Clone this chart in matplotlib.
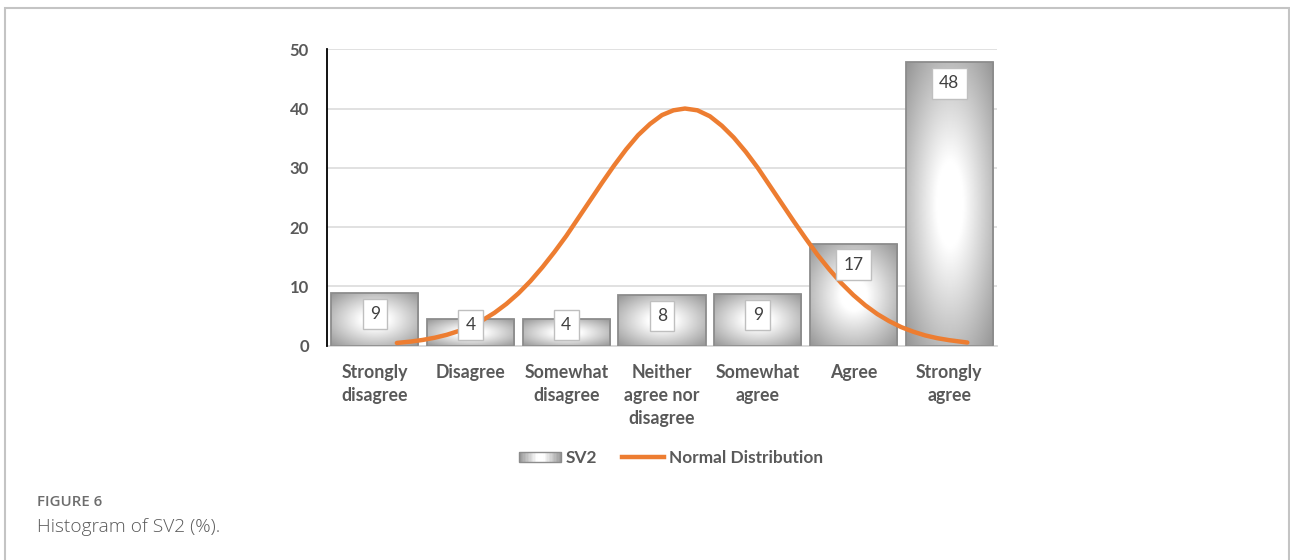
import numpy as np
import matplotlib
matplotlib.use("Agg")
import matplotlib.pyplot as plt
from matplotlib.patches import Rectangle
from matplotlib.legend_handler import HandlerBase
from matplotlib.lines import Line2D

plt.rcParams['font.family'] = ['Lato', 'DejaVu Sans']

# ---- data ----
categories = ["Strongly\ndisagree", "Disagree", "Somewhat\ndisagree",
              "Neither\nagree nor\ndisagree", "Somewhat\nagree", "Agree",
              "Strongly\nagree"]
sv2_values = [8.9, 4.5, 4.5, 8.5, 8.7, 17.2, 47.8]
sv2_labels = ["9", "4", "4", "8", "9", "17", "48"]
normal_x = [0.23, 0.375, 0.5, 0.625, 0.75, 0.875, 1.0, 1.125, 1.25, 1.375,
            1.5, 1.625, 1.75, 1.875, 2.0, 2.125, 2.25, 2.375, 2.5, 2.625,
            2.75, 2.875, 3.0, 3.12, 3.24, 3.37, 3.5, 3.625, 3.75, 3.875,
            4.0, 4.125, 4.25, 4.375, 4.5, 4.625, 4.75, 4.875, 5.0, 5.125,
            5.25, 5.375, 5.5, 5.625, 5.75, 5.875, 6.0, 6.19]
normal_y = [0.43, 0.66, 0.94, 1.31, 1.8, 2.44, 3.25, 4.27, 5.52, 7.03,
            8.8, 10.86, 13.2, 15.76, 18.5, 21.5, 24.5, 27.5, 30.4, 33.1,
            35.5, 37.4, 38.9, 39.7, 40.0, 39.7, 38.7, 37.1, 35.1, 32.7,
            30.0, 27.0, 24.0, 21.0, 18.1, 15.3, 12.8, 10.5, 8.5, 6.77,
            5.3, 4.1, 3.1, 2.33, 1.7, 1.24, 0.9, 0.5]
y_ticks = [0, 10, 20, 30, 40, 50]

TXT = '#595959'
ORANGE = '#ED7D31'
BAR_EDGE = '#8c8c8c'

W, H = 1290, 560
fig = plt.figure(figsize=(W / 100, H / 100), dpi=100)
ax = fig.add_axes([327 / W, 1 - 345.5 / H, (997 - 327) / W, (345.5 - 49.3) / H])

# radial gradient image (white centre, grey corners)
u = np.linspace(-1, 1, 200)
U, V = np.meshgrid(u, u)
R = np.sqrt(U ** 2 + V ** 2)
T = np.clip((R - 0.3) / (1.414 - 0.3), 0, 1)
grad = 1 - 0.42 * T

bar_w = 0.91
x = np.arange(len(categories))
for xi, h in zip(x, sv2_values):
    rect = Rectangle((xi - bar_w / 2, 0), bar_w, h, facecolor='none',
                     edgecolor=BAR_EDGE, linewidth=1.3, zorder=3)
    ax.add_patch(rect)
    im = ax.imshow(grad, cmap='gray', vmin=0, vmax=1, aspect='auto',
                   extent=(xi - bar_w / 2, xi + bar_w / 2, 0, h),
                   zorder=2, interpolation='bilinear')
    im.set_clip_path(rect)

ax.plot(normal_x, normal_y, color=ORANGE, linewidth=3.2, zorder=4,
        solid_capstyle='round', solid_joinstyle='round')

# data labels
for xi, h, lab in zip(x, sv2_values, sv2_labels):
    yl = max(h - 3.55, 3.46)
    ax.text(xi, yl, lab, ha='center', va='center', fontsize=12.5,
            color='#404040', zorder=6,
            bbox=dict(boxstyle='square,pad=0.42', facecolor='white',
                      edgecolor='#bfbfbf', linewidth=1.0))

ax.set_xlim(-0.5, len(categories) - 0.5)
ax.set_ylim(0, 50)
ax.set_yticks(y_ticks)
ax.set_yticklabels([str(t) for t in y_ticks], fontsize=12, fontweight='bold', color=TXT)
ax.set_xticks(x)
ax.set_xticklabels(categories, fontsize=12.8, fontweight='bold', color=TXT,
                   linespacing=1.42, va='top')
ax.tick_params(axis='both', length=0)
ax.tick_params(axis='y', pad=13)
ax.tick_params(axis='x', pad=13.5)
ax.grid(axis='y', color='#d9d9d9', linewidth=1.1, zorder=0)
ax.set_axisbelow(True)
for s in ['top', 'right']:
    ax.spines[s].set_visible(False)
ax.spines['left'].set_color('black')
ax.spines['left'].set_linewidth(1.3)
ax.spines['left'].set_zorder(5)
ax.spines['bottom'].set_color('#d9d9d9')
ax.spines['bottom'].set_linewidth(1.3)


class HandlerGradient(HandlerBase):
    def create_artists(self, legend, orig_handle, xdescent, ydescent,
                       width, height, fontsize, trans):
        arts = []
        n = 30
        h = height * 0.85
        y0 = -ydescent + (height - h) / 2
        for k in range(n):
            c = (k + 0.5) / n
            g = 1 - 0.42 * min(1, max(0, (abs(2 * c - 1) - 0.15) / 0.85))
            r = Rectangle((-xdescent + width * k / n, y0), width / n + 0.3, h,
                          facecolor=(g, g, g), edgecolor='none', transform=trans)
            arts.append(r)
        arts.append(Rectangle((-xdescent, y0), width, h, facecolor='none',
                              edgecolor=BAR_EDGE, linewidth=1.0, transform=trans))
        return arts


bar_handle = Rectangle((0, 0), 1, 1)
line_handle = Line2D([], [], color=ORANGE, linewidth=3.2)
leg = fig.legend([bar_handle, line_handle], ['SV2', 'Normal Distribution'],
                 handler_map={Rectangle: HandlerGradient()},
                 loc='center', bbox_to_anchor=(671 / W, 1 - 458 / H), ncol=2,
                 frameon=False, handlelength=2.45, handletextpad=0.25,
                 columnspacing=1.45, prop={'weight': 'bold', 'size': 12.4})
for t in leg.get_texts():
    t.set_color(TXT)

# caption
fig.text(37 / W, 1 - 502 / H, 'FIGURE 6', fontsize=10.8, color='#6d6d6d',
         ha='left', va='center', fontfamily=['Open Sans', 'DejaVu Sans'],
         fontweight='semibold')
fig.text(37 / W, 1 - 527 / H, 'Histogram of SV2 (%).', fontsize=13.8, color='#5a5a5a',
         ha='left', va='center', fontfamily=['Open Sans', 'DejaVu Sans'],
         fontweight='light')

# outer frame
fig.patches.append(Rectangle((4.5 / W, -0.05), (1288.5 - 4.5) / W, 1.05 - 7.5 / H,
                             transform=fig.transFigure, facecolor='none',
                             edgecolor='#c4c4c4', linewidth=1.5))

fig.savefig('out.png', dpi=100)
